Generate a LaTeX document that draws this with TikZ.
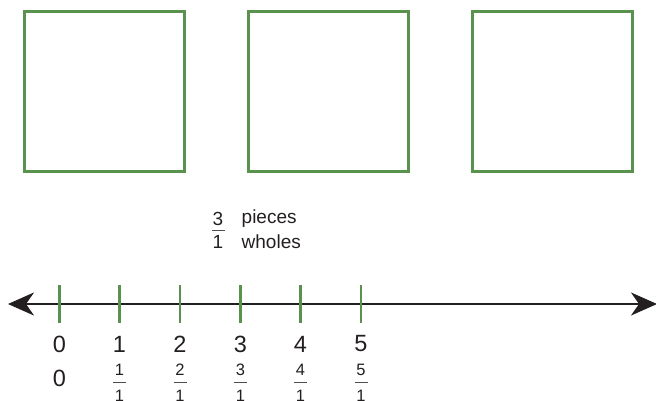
\documentclass[tikz,border=0pt]{standalone}
\usepackage{fontspec}
\setmainfont{Liberation Sans}
\usetikzlibrary{arrows.meta}
\definecolor{boxgreen}{RGB}{88,146,76}
\definecolor{axisblack}{RGB}{35,31,32}
\tikzset{
  square/.style={draw=boxgreen, line width=2.6pt},
  tickmark/.style={draw=boxgreen, line width=2.4pt},
  axisline/.style={draw=axisblack, line width=2.4pt, {Stealth[length=26pt,width=23pt,inset=8pt]}-{Stealth[length=26pt,width=23pt,inset=8pt]}},
  intlabel/.style={font=\fontsize{23.5}{23.5}\selectfont, text=axisblack, inner sep=0pt},
  fraclabel/.style={font=\fontsize{16.5}{16.5}\selectfont, text=axisblack, inner sep=0pt},
  toplabel/.style={font=\fontsize{19}{19}\selectfont, text=axisblack, inner sep=0pt},
  fracbar/.style={draw=axisblack!80, line width=1pt},
}
\begin{document}
\begin{tikzpicture}[x=1pt,y=-1pt]
\useasboundingbox (0,0) rectangle (656,400);
\clip (0,0) rectangle (656,400);
% squares
\node[square, minimum width=160pt, minimum height=160pt, inner sep=0pt] (s1) at (104.5,91.5) {};
\node[square, minimum width=160pt, minimum height=160pt, inner sep=0pt] (s2) at (328.5,91.5) {};
\node[square, minimum width=160pt, minimum height=160pt, inner sep=0pt] (s3) at (552.5,91.5) {};
% top fraction
\node[toplabel] (tn) at (218,218.5) {3};
\node[toplabel] (td) at (218,241.5) {1};
\draw[fracbar] (211.5,230.5) -- (224.5,230.5);
\node[toplabel, anchor=west] (tp) at (241.5,218.5) {pieces};
\node[toplabel, anchor=west] (tw) at (241.5,241.5) {wholes};
% axis
\coordinate (L) at (8,304);
\coordinate (R) at (657,304);
\draw[axisline] (L) -- (R);
% ticks and labels
\foreach \i/\x in {0/59.5,1/119.5,2/180,3/240.5,4/300.5,5/361} {
  \coordinate (t\i) at (\x,285);
  \coordinate (b\i) at (\x,323);
  \draw[tickmark] (t\i) -- (b\i);
  \node[intlabel] (n\i) at (\x,344) {\i};
}
\node[intlabel] (f0) at (59.5,378) {0};
\foreach \i/\x in {1/119.5,2/180,3/240.5,4/300.5,5/361} {
  \node[fraclabel] (fn\i) at (\x,370) {\i};
  \node[fraclabel] (fd\i) at (\x,396) {1};
  \draw[fracbar] (\x-6.5,382.5) -- (\x+6.5,382.5);
}
\end{tikzpicture}
\end{document}
